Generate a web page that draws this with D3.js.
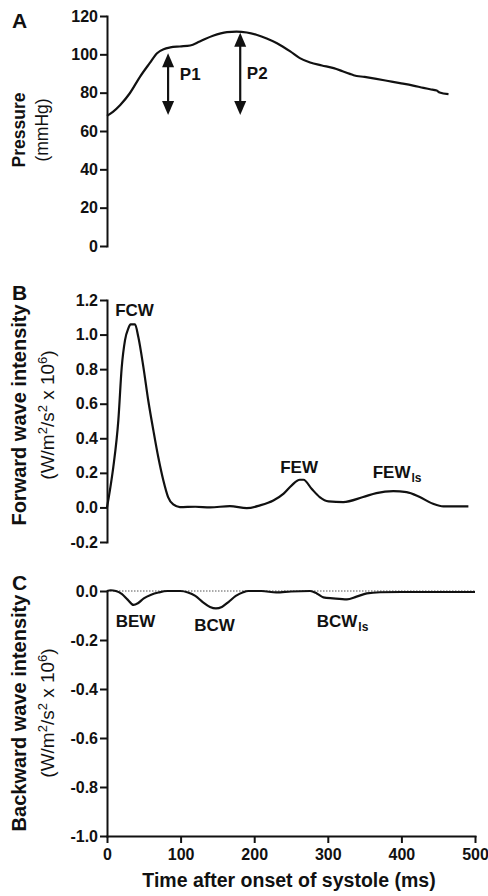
<!DOCTYPE html>
<html>
<head>
<meta charset="utf-8">
<script src="https://cdn.jsdelivr.net/npm/d3@7"></script>
<style>
  body { margin: 0; background: #fff; }
  svg text { font-family: "Liberation Sans", Arial, sans-serif; fill: #111; }
  .axis path, .axis line { stroke: #111; stroke-width: 2; }
</style>
</head>
<body>
<svg id="canvas" width="488" height="896"></svg>
<script>
// panel A : aortic pressure
let pressureTime = [0, 8, 18, 31, 45, 58, 68, 77, 86, 99, 113, 126, 144, 163, 176, 190, 203, 217, 231, 249, 262, 276, 292, 308, 320, 330, 335, 350, 366, 382, 398, 416, 430, 439, 448, 452, 464];
let pressureVal = [67.9, 70, 73.6, 79.7, 88.4, 95.4, 100.6, 102.7, 103.6, 104.1, 104.6, 106.7, 109.7, 111.6, 111.9, 111.4, 110.2, 108.3, 105.8, 101.5, 98, 95.7, 94.2, 92.8, 91.2, 89.8, 89.1, 88.2, 87.2, 86.1, 85, 83.7, 82.5, 81.8, 81.1, 80.1, 79.2];

// panel B : forward wave intensity
let forwardTime = [0, 4, 8.6, 15.4, 20, 24.5, 29, 32, 38, 42.5, 49.4, 56, 63, 69.7, 76.5, 83, 90, 99, 120, 140, 167, 190, 208, 226, 240, 251, 262, 267, 278, 289, 301, 321, 348, 366, 389, 407, 425, 443, 457, 491];
let forwardVal = [0, 0.1, 0.234, 0.504, 0.81, 0.968, 1.036, 1.059, 1.059, 0.987, 0.813, 0.62, 0.446, 0.29, 0.157, 0.06, 0.017, 0.002, 0.004, 0.0, 0.008, -0.004, 0.012, 0.04, 0.08, 0.128, 0.16, 0.16, 0.108, 0.06, 0.035, 0.031, 0.06, 0.083, 0.094, 0.089, 0.06, 0.021, 0.006, 0.006];

// panel C : backward wave intensity
let backwardTime = [0, 5, 12, 20, 28, 36, 42, 50, 60, 70, 82, 100, 110, 120, 130, 140, 148, 156, 165, 175, 185, 192, 210, 230, 250, 276, 285, 294, 307, 326, 339, 353, 371, 400, 450, 500];
let backwardVal = [0, 0.003, 0, -0.012, -0.035, -0.057, -0.05, -0.03, -0.015, -0.006, 0, 0, -0.006, -0.02, -0.045, -0.065, -0.071, -0.065, -0.045, -0.02, -0.005, 0, 0.0, -0.006, -0.002, 0, -0.01, -0.026, -0.03, -0.034, -0.023, -0.01, -0.005, -0.004, -0.004, -0.004];

let xTicks = [0, 100, 200, 300, 400, 500];
let pressureTicks = [0, 20, 40, 60, 80, 100, 120];
let forwardTicks = [-0.2, 0, 0.2, 0.4, 0.6, 0.8, 1.0, 1.2];
let backwardTicks = [-1.0, -0.8, -0.6, -0.4, -0.2, 0];

// arrows P1 / P2 (time, from, to in mmHg)
let arrowTime = [83, 181];
let arrowFrom = [68.4, 68.4];
let arrowTo = [100.6, 111.2];
let arrowLabels = ["P1", "P2"];
let arrowLabelPos = [[99, 86.7], [190, 87.2]];

let canvas = d3.select("#canvas");

let x = d3.scaleLinear().domain([0, 500]).range([107, 475]);
let yA = d3.scaleLinear().domain([0, 120]).range([246, 16]);
let yB = d3.scaleLinear().domain([-0.2, 1.2]).range([542, 300]);
let yC = d3.scaleLinear().domain([-1.0, 0]).range([836, 591]);

let fmt1 = (d) => d.toFixed(1);

let styleAxis = (g) => {
    g.attr("class", "axis")
     .attr("font-size", 16)
     .attr("font-weight", "bold")
     .attr("font-family", "'Liberation Sans', Arial, sans-serif");
    g.select(".domain").attr("stroke-linecap", "square");
};

let drawLeftAxis = (scale, ticks, format) => {
    canvas.append("g")
          .attr("transform", "translate(" + x(0) + ",0)")
          .call(d3.axisLeft(scale).tickValues(ticks).tickFormat(format)
                  .tickSize(7).tickSizeOuter(0).tickPadding(2))
          .call(styleAxis);
};

drawLeftAxis(yA, pressureTicks, d3.format("d"));
drawLeftAxis(yB, forwardTicks, fmt1);
drawLeftAxis(yC, backwardTicks, fmt1);

canvas.append("g")
      .attr("transform", "translate(0," + yC(-1.0) + ")")
      .call(d3.axisBottom(x).tickValues(xTicks).tickFormat(d3.format("d"))
              .tickSize(7).tickSizeOuter(0).tickPadding(6))
      .call(styleAxis);

// dotted zero line in panel C
canvas.append("line")
      .attr("x1", x(0)).attr("x2", x(500))
      .attr("y1", yC(0)).attr("y2", yC(0))
      .attr("stroke", "#555")
      .attr("stroke-width", 1)
      .attr("stroke-dasharray", "1.5,1.5");

let drawCurve = (times, vals, yScale) => {
    let line = d3.line()
                 .x((d, i) => x(times[i]))
                 .y((d) => yScale(d))
                 .curve(d3.curveMonotoneX);
    canvas.append("path")
          .datum(vals)
          .attr("d", line)
          .attr("fill", "none")
          .attr("stroke", "#111")
          .attr("stroke-width", 2.2);
};

drawCurve(pressureTime, pressureVal, yA);
drawCurve(forwardTime, forwardVal, yB);
drawCurve(backwardTime, backwardVal, yC);

// double headed arrows
arrowTime.forEach((t, i) => {
    let ax = x(t), y1 = yA(arrowTo[i]), y2 = yA(arrowFrom[i]);
    let headL = 14, headW = 6;
    canvas.append("line")
          .attr("x1", ax).attr("x2", ax)
          .attr("y1", y1 + headL - 2).attr("y2", y2 - headL + 2)
          .attr("stroke", "#111").attr("stroke-width", 2.2);
    canvas.append("path")
          .attr("d", "M" + ax + "," + y1 + "L" + (ax + headW) + "," + (y1 + headL) + "L" + (ax - headW) + "," + (y1 + headL) + "Z")
          .attr("fill", "#111");
    canvas.append("path")
          .attr("d", "M" + ax + "," + y2 + "L" + (ax + headW) + "," + (y2 - headL) + "L" + (ax - headW) + "," + (y2 - headL) + "Z")
          .attr("fill", "#111");
    canvas.append("text")
          .attr("x", x(arrowLabelPos[i][0]))
          .attr("y", yA(arrowLabelPos[i][1]))
          .attr("font-size", 17).attr("font-weight", "bold")
          .text(arrowLabels[i]);
});

// wave labels
let addLabel = (t, v, yScale, main, sub, anchor) => {
    let txt = canvas.append("text")
                    .attr("x", x(t)).attr("y", yScale(v))
                    .attr("text-anchor", anchor)
                    .attr("font-size", 17).attr("font-weight", "bold")
                    .text(main);
    if (sub) {
        txt.append("tspan").attr("font-size", 12).attr("dy", 4).attr("dx", 1).text(sub);
    }
};
addLabel(37.4, 1.107, yB, "FCW", null, "middle");
addLabel(261, 0.197, yB, "FEW", null, "middle");
addLabel(361, 0.168, yB, "FEW", "ls", "start");
addLabel(38.7, -0.147, yC, "BEW", null, "middle");
addLabel(146, -0.163, yC, "BCW", null, "middle");
addLabel(285, -0.147, yC, "BCW", "ls", "start");

// panel letters
[["A", 28], ["B", 300], ["C", 590]].forEach((p) => {
    canvas.append("text").attr("x", 12).attr("y", p[1])
          .attr("font-size", 21).attr("font-weight", "bold").text(p[0]);
});

// y axis titles
let yTitle = (cy, x1, x2, size1, size2, line1, line2Fn) => {
    canvas.append("text")
          .attr("transform", "translate(" + x1 + "," + cy + ") rotate(-90)")
          .attr("text-anchor", "middle")
          .attr("font-size", size1).attr("font-weight", "bold")
          .text(line1);
    let t2 = canvas.append("text")
                   .attr("transform", "translate(" + x2 + "," + cy + ") rotate(-90)")
                   .attr("text-anchor", "middle")
                   .attr("font-size", size2);
    line2Fn(t2);
};
yTitle(130, 25, 48, 17.5, 17.5, "Pressure", (t) => t.text("(mmHg)"));

let intensityUnits = (t) => {
    t.append("tspan").text("(W/m");
    t.append("tspan").attr("dy", -7).attr("font-size", 13).text("2");
    t.append("tspan").attr("dy", 7).text("/s");
    t.append("tspan").attr("dy", -7).attr("font-size", 13).text("2");
    t.append("tspan").attr("dy", 7).text(" x 10");
    t.append("tspan").attr("dy", -7).attr("font-size", 13).text("6");
    t.append("tspan").attr("dy", 7).text(")");
};
yTitle(415, 26, 54, 20, 19, "Forward wave intensity", intensityUnits);
yTitle(713, 26, 54, 20, 19, "Backward wave intensity", intensityUnits);

// x axis title
canvas.append("text")
      .attr("x", x(250) - 2).attr("y", 887)
      .attr("text-anchor", "middle")
      .attr("font-size", 19.5).attr("font-weight", "bold")
      .text("Time after onset of systole (ms)");
</script>
</body>
</html>
